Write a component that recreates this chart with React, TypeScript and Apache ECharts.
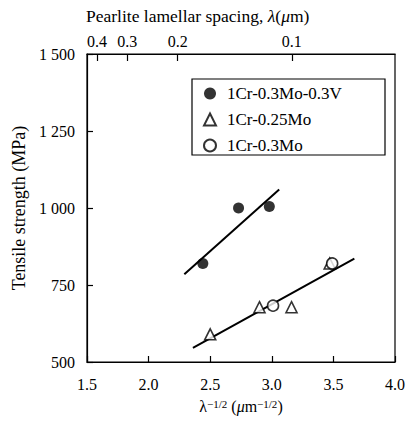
import React, { useEffect, useRef } from "react";
import * as echarts from "echarts";

const vSteelX = [2.44, 2.73, 2.98];
const vSteelY = [820, 1000, 1005];
const mo025X = [2.5, 2.9, 3.16, 3.47];
const mo025Y = [590, 678, 678, 820];
const mo03X = [3.01, 3.49];
const mo03Y = [683, 820];
const fitVX = [2.29, 3.06];
const fitVY = [785, 1060];
const fitMoX = [2.36, 3.67];
const fitMoY = [546, 836];
const lambdaTicks = [0.4, 0.3, 0.2, 0.1];
const seriesNames = ["1Cr-0.3Mo-0.3V", "1Cr-0.25Mo", "1Cr-0.3Mo"];

const FONT = "Liberation Serif";

const zip = (xs: number[], ys: number[]) => xs.map((x, i) => [x, ys[i]]);

export default function App() {
  const ref = useRef<HTMLDivElement>(null);
  useEffect(() => {
    if (!ref.current) return;
    const chart = echarts.init(ref.current, undefined, { renderer: "svg" });
    const topVals = lambdaTicks.map((l) => 1 / Math.sqrt(l));
    chart.setOption({
      animation: false,
      backgroundColor: "#fff",
      textStyle: { fontFamily: FONT, color: "#000" },
      title: {
        left: 86,
        top: 7,
        padding: 0,
        text: "Pearlite lamellar spacing, {i|λ}({i|μ}m)",
        textStyle: {
          fontFamily: FONT,
          fontSize: 17.5,
          fontWeight: "normal",
          color: "#000",
          rich: { i: { fontFamily: FONT, fontSize: 17.5, fontStyle: "italic", color: "#000" } },
        },
      },
      graphic: [
        {
          type: "rect",
          z: 10,
          shape: { x: 192, y: 79, width: 193, height: 76 },
          style: { fill: "none", stroke: "#000", lineWidth: 1.2 },
          silent: true,
        },
      ],
      grid: {
        left: 87,
        right: 15,
        top: 54,
        bottom: 65,
        show: true,
        borderColor: "#000",
        borderWidth: 1.2,
        backgroundColor: "transparent",
      },
      legend: {
        left: 192,
        top: 79,
        orient: "vertical",
        data: seriesNames,
        itemWidth: 12,
        itemHeight: 12,
        itemGap: 9,
        padding: [6, 4, 2, 11],
        textStyle: {
          fontFamily: FONT,
          fontSize: 17,
          color: "#000",
          padding: [0, 0, 0, 6],
        },
      },
      xAxis: [
        {
          type: "value",
          position: "bottom",
          min: 1.5,
          max: 4,
          interval: 0.5,
          splitLine: { show: false },
          axisLine: { lineStyle: { color: "#000", width: 1.2 } },
          axisTick: { inside: true, length: 6, lineStyle: { color: "#000", width: 1.2 } },
          axisLabel: {
            fontFamily: FONT,
            fontSize: 16,
            color: "#000",
            margin: 14,
            formatter: (v: number) => v.toFixed(1),
          },
          name: "λ{sup|−1/2} ({i|μ}m{sup|−1/2})",
          nameLocation: "middle",
          nameGap: 36,
          nameTextStyle: {
            fontFamily: FONT,
            fontSize: 16,
            color: "#000",
            rich: {
              sup: { fontFamily: FONT, fontSize: 11, verticalAlign: "top", color: "#000" },
              i: { fontFamily: FONT, fontSize: 16, fontStyle: "italic", color: "#000" },
            },
          },
        },
        {
          type: "value",
          position: "top",
          min: 1.5,
          max: 4,
          splitLine: { show: false },
          axisLine: { lineStyle: { color: "#000", width: 1.2 } },
          axisTick: {
            inside: true,
            length: 7,
            customValues: topVals,
            lineStyle: { color: "#000", width: 1.2 },
          },
          axisLabel: {
            fontFamily: FONT,
            fontSize: 16,
            color: "#000",
            margin: 5,
            customValues: topVals,
            formatter: (v: number) => (1 / (v * v)).toFixed(1),
          },
        },
      ],
      yAxis: {
        type: "value",
        min: 500,
        max: 1500,
        interval: 250,
        splitLine: { show: false },
        axisLine: { show: true, lineStyle: { color: "#000", width: 1.2 } },
        axisTick: { show: true, inside: true, length: 6, lineStyle: { color: "#000", width: 1.2 } },
        axisLabel: {
          fontFamily: FONT,
          fontSize: 16,
          color: "#000",
          margin: 12,
          formatter: (v: number) =>
            v >= 1000 ? `${Math.floor(v / 1000)} ${String(v % 1000).padStart(3, "0")}` : String(v),
        },
        name: "Tensile strength (MPa)",
        nameLocation: "middle",
        nameGap: 58,
        nameTextStyle: { fontFamily: FONT, fontSize: 18, color: "#000" },
      },
      series: [
        {
          name: seriesNames[0],
          type: "scatter",
          symbol: "circle",
          symbolSize: 11,
          itemStyle: { color: "#000" },
          data: zip(vSteelX, vSteelY),
          z: 3,
        },
        {
          name: seriesNames[1],
          type: "scatter",
          symbol: "triangle",
          symbolSize: 11,
          itemStyle: { color: "#fff", borderColor: "#000", borderWidth: 1.6 },
          data: zip(mo025X, mo025Y),
          z: 3,
        },
        {
          name: seriesNames[2],
          type: "scatter",
          symbol: "circle",
          symbolSize: 11,
          itemStyle: { color: "#fff", borderColor: "#000", borderWidth: 1.6 },
          data: zip(mo03X, mo03Y),
          z: 4,
        },
        {
          name: "fitV",
          type: "line",
          showSymbol: false,
          symbol: "none",
          lineStyle: { color: "#000", width: 2 },
          data: zip(fitVX, fitVY),
          z: 2,
        },
        {
          name: "fitMo",
          type: "line",
          showSymbol: false,
          symbol: "none",
          lineStyle: { color: "#000", width: 2 },
          data: zip(fitMoX, fitMoY),
          z: 2,
        },
      ],
    });
    return () => chart.dispose();
  }, []);
  return <div ref={ref} style={{ width: 410, height: 427, position: "absolute", left: 0, top: 0 }} />;
}
